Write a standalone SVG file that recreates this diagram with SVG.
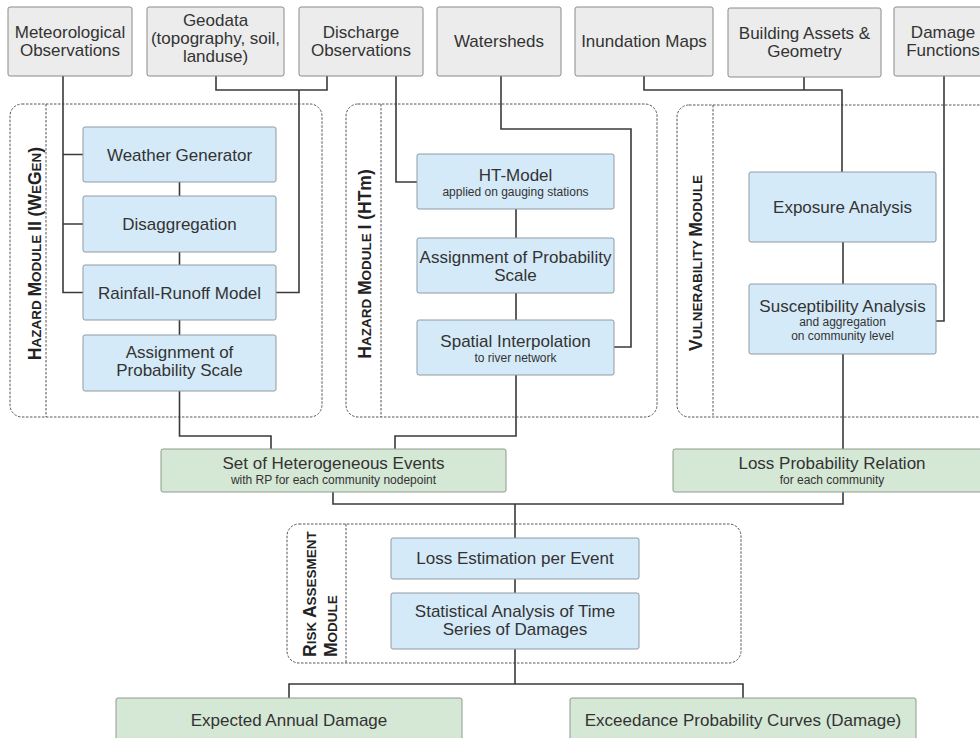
<svg xmlns="http://www.w3.org/2000/svg" width="980" height="738" viewBox="0 0 980 738">
<style>
text{font-family:"Liberation Sans",Arial,sans-serif;fill:#333;}
.t{font-size:17px;text-anchor:middle;}
.s{font-size:12px;text-anchor:middle;}
.lab{font-weight:bold;fill:#222;}
.big{font-size:17.5px;}
.sm{font-size:13.5px;}
.gray{fill:#ececec;stroke:#8a8a8a;stroke-width:1;}
.blue{fill:#d5eaf8;stroke:#8f9aa3;stroke-width:1;}
.green{fill:#d5e7d5;stroke:#8f9a8f;stroke-width:1;}
.mod{fill:none;stroke:#555;stroke-width:1;stroke-dasharray:2.5 1.5;}
.conn path{fill:none;stroke:#3a3a3a;stroke-width:1.6;}
</style>
<rect width="980" height="738" fill="#fff"/>

<g id="modules">
<g id="mod-hazard2">
<rect class="mod" x="10" y="104" width="312" height="313" rx="12"/>
<line class="mod" x1="46" y1="104" x2="46" y2="417"/>
<text class="lab" transform="translate(41,253.5) rotate(-90)" text-anchor="middle"><tspan class="big">H</tspan><tspan class="sm">AZARD </tspan><tspan class="big">M</tspan><tspan class="sm">ODULE </tspan><tspan class="big">II (W</tspan><tspan class="sm">E</tspan><tspan class="big">G</tspan><tspan class="sm">EN</tspan><tspan class="big">)</tspan></text>
</g>
<g id="mod-hazard1">
<rect class="mod" x="346" y="104" width="311" height="313" rx="12"/>
<line class="mod" x1="381" y1="104" x2="381" y2="417"/>
<text class="lab" transform="translate(371,264) rotate(-90)" text-anchor="middle"><tspan class="big">H</tspan><tspan class="sm">AZARD </tspan><tspan class="big">M</tspan><tspan class="sm">ODULE </tspan><tspan class="big">I (HTm)</tspan></text>
</g>
<g id="mod-vuln">
<rect class="mod" x="677" y="105" width="330" height="312" rx="12"/>
<line class="mod" x1="713" y1="105" x2="713" y2="417"/>
<text class="lab" transform="translate(702,263) rotate(-90)" text-anchor="middle"><tspan class="big">V</tspan><tspan class="sm">ULNERABILITY </tspan><tspan class="big">M</tspan><tspan class="sm">ODULE</tspan></text>
</g>
<g id="mod-risk">
<rect class="mod" x="287" y="524" width="454" height="139" rx="12"/>
<line class="mod" x1="346" y1="524" x2="346" y2="663"/>
<text class="lab" transform="translate(316,657) rotate(-90)"><tspan class="big">R</tspan><tspan class="sm">ISK </tspan><tspan class="big">A</tspan><tspan class="sm">SSESMENT</tspan></text>
<text class="lab" transform="translate(337,657) rotate(-90)"><tspan class="big">M</tspan><tspan class="sm">ODULE</tspan></text>
</g>
</g>

<g class="conn" id="connectors">
<path d="M63,75 V292.5 H83 M63,154.5 H83 M63,224 H83"/>
<path d="M216,76 V90 H327 V76 M299,90 V292.5 H276"/>
<path d="M396,76 V182 H417"/>
<path d="M501,76 V129 H631 V347 H614"/>
<path d="M644,76 V90 H842 V172 M804,77 V90"/>
<path d="M944,76 V321 H936"/>
<path d="M179.5,182 V196 M179.5,252 V265 M179.5,320 V335 M179.5,391 V436 H271 V449"/>
<path d="M516,209 V238 M516,293 V320 M516,375 V436 H395 V449"/>
<path d="M843,242 V284 M843,354 V449"/>
<path d="M333,492 V504 H843 V492 M515,504 V538"/>
<path d="M515,579 V593 M515,649 V684 M289,698 V684 H743 V698"/>
</g>

<g id="n-met"><rect class="gray" x="8" y="7" width="124" height="69" rx="2"/><text class="t" x="70" y="38">Meteorological</text><text class="t" x="70" y="56">Observations</text></g>
<g id="n-geo"><rect class="gray" x="147" y="7" width="137" height="69" rx="2"/><text class="t" x="215.5" y="26">Geodata</text><text class="t" x="215.5" y="44">(topography, soil,</text><text class="t" x="215.5" y="62">landuse)</text></g>
<g id="n-dis"><rect class="gray" x="299" y="7" width="124" height="69" rx="2"/><text class="t" x="361" y="38">Discharge</text><text class="t" x="361" y="56">Observations</text></g>
<g id="n-ws"><rect class="gray" x="437" y="7" width="124" height="69" rx="2"/><text class="t" x="499" y="47">Watersheds</text></g>
<g id="n-inun"><rect class="gray" x="575" y="7" width="138" height="69" rx="2"/><text class="t" x="644" y="47">Inundation Maps</text></g>
<g id="n-build"><rect class="gray" x="728" y="8" width="153" height="69" rx="2"/><text class="t" x="804.5" y="39">Building Assets &amp;</text><text class="t" x="804.5" y="57">Geometry</text></g>
<g id="n-dmg"><rect class="gray" x="894" y="7" width="100" height="69" rx="2"/><text class="t" x="943" y="38">Damage</text><text class="t" x="943" y="56">Functions</text></g>

<g id="n-wg"><rect class="blue" x="83" y="127" width="193" height="55" rx="2"/><text class="t" x="179.5" y="160.5">Weather Generator</text></g>
<g id="n-disagg"><rect class="blue" x="83" y="196" width="193" height="56" rx="2"/><text class="t" x="179.5" y="230">Disaggregation</text></g>
<g id="n-rr"><rect class="blue" x="83" y="265" width="193" height="55" rx="2"/><text class="t" x="179.5" y="298.5">Rainfall-Runoff Model</text></g>
<g id="n-aps2"><rect class="blue" x="83" y="335" width="193" height="56" rx="2"/><text class="t" x="179.5" y="358">Assignment of</text><text class="t" x="179.5" y="376">Probability Scale</text></g>

<g id="n-ht"><rect class="blue" x="417" y="154" width="197" height="55" rx="2"/><text class="t" x="515.5" y="181">HT-Model</text><text class="s" x="515.5" y="196">applied on gauging stations</text></g>
<g id="n-aps1"><rect class="blue" x="417" y="238" width="197" height="55" rx="2"/><text class="t" x="515.5" y="263">Assignment of Probability</text><text class="t" x="515.5" y="281">Scale</text></g>
<g id="n-si"><rect class="blue" x="417" y="320" width="197" height="55" rx="2"/><text class="t" x="515.5" y="347">Spatial Interpolation</text><text class="s" x="515.5" y="362">to river network</text></g>

<g id="n-exp"><rect class="blue" x="749" y="172" width="187" height="70" rx="2"/><text class="t" x="842.5" y="213">Exposure Analysis</text></g>
<g id="n-sus"><rect class="blue" x="749" y="284" width="187" height="70" rx="2"/><text class="t" x="842.5" y="312">Susceptibility Analysis</text><text class="s" x="842.5" y="326">and aggregation</text><text class="s" x="842.5" y="340">on community level</text></g>

<g id="n-set"><rect class="green" x="161" y="449" width="345" height="43" rx="2"/><text class="t" x="333.5" y="469">Set of Heterogeneous Events</text><text class="s" x="333.5" y="484">with RP for each community nodepoint</text></g>
<g id="n-lpr"><rect class="green" x="673" y="449" width="318" height="43" rx="2"/><text class="t" x="832" y="469">Loss Probability Relation</text><text class="s" x="832" y="484">for each community</text></g>

<g id="n-loss"><rect class="blue" x="391" y="538" width="248" height="41" rx="2"/><text class="t" x="515" y="564">Loss Estimation per Event</text></g>
<g id="n-stat"><rect class="blue" x="391" y="593" width="248" height="56" rx="2"/><text class="t" x="515" y="617">Statistical Analysis of Time</text><text class="t" x="515" y="635">Series of Damages</text></g>

<g id="n-ead"><rect class="green" x="116" y="698" width="346" height="46" rx="2"/><text class="t" x="289" y="726">Expected Annual Damage</text></g>
<g id="n-epc"><rect class="green" x="570" y="698" width="346" height="46" rx="2"/><text class="t" x="743" y="726">Exceedance Probability Curves (Damage)</text></g>
</svg>
